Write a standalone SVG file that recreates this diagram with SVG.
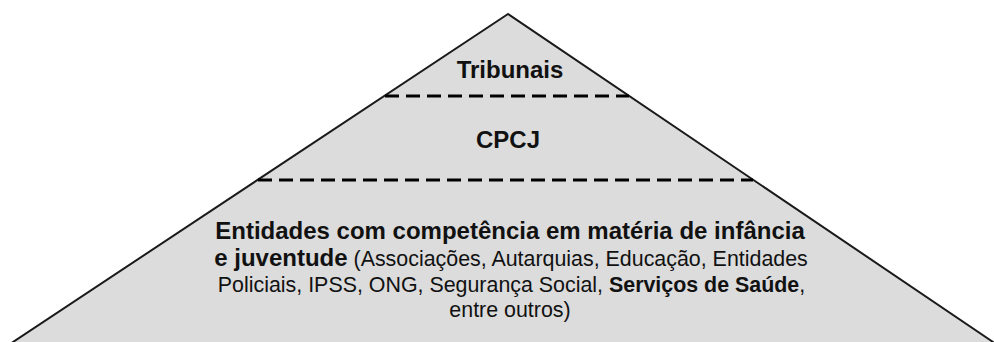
<svg xmlns="http://www.w3.org/2000/svg" width="994" height="342" viewBox="0 0 994 342">
<style>
.shape{fill:#dcdcdc;stroke:#1a1a1a;stroke-width:2;stroke-linejoin:miter}
.div{stroke:#000;stroke-width:3;stroke-dasharray:14 7;fill:none}
text{font-family:"Liberation Sans",Arial,sans-serif;fill:#111;text-anchor:middle}
.b{font-weight:bold;font-size:24px}
.r{font-weight:normal;font-size:21.4px}
.rb{font-weight:bold;font-size:21.4px}
</style>
<rect width="994" height="342" fill="#ffffff"/>
<g id="pyramid">
<polygon class="shape" points="508,14 7,346 999,346"/>
</g>
<g id="connectors">
<line class="div" x1="385" y1="96" x2="629" y2="96"/>
<line class="div" x1="258" y1="180" x2="753" y2="180"/>
</g>
<g id="tribunais">
<text class="b" x="510" y="78">Tribunais</text>
</g>
<g id="cpcj">
<text class="b" x="508" y="148">CPCJ</text>
</g>
<g id="entidades">
<text class="b" x="510" y="239">Entidades com competência em matéria de infância</text>
<text x="511" y="266"><tspan class="b">e juventude</tspan><tspan class="r"> (Associações, Autarquias, Educação, Entidades</tspan></text>
<text x="511.5" y="292"><tspan class="r">Policiais, IPSS, ONG, Segurança Social, </tspan><tspan class="rb">Serviços de Saúde</tspan><tspan class="r">,</tspan></text>
<text class="r" x="510" y="317">entre outros)</text>
</g>
</svg>
